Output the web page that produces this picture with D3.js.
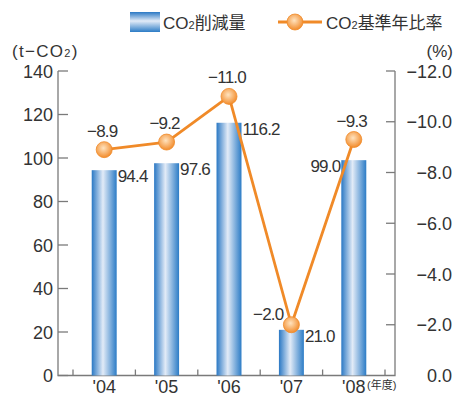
<!DOCTYPE html>
<html>
<head>
<meta charset="utf-8">
<script src="https://cdn.jsdelivr.net/npm/d3@7"></script>
<style>
  body { margin: 0; background: #fff; }
  svg { display: block; font-family: "Liberation Sans", Arial, "Noto Sans CJK JP", sans-serif; }
</style>
</head>
<body>
<div id="chart"></div>
<script>
const years = ["'04", "'05", "'06", "'07", "'08"];
const reduction = [94.4, 97.6, 116.2, 21.0, 99.0];      // t-CO2
const ratio = [-8.9, -9.2, -11.0, -2.0, -9.3];          // %
const leftTicks = [0, 20, 40, 60, 80, 100, 120, 140];
const rightTicks = [0, -2, -4, -6, -8, -10, -12];

const W = 470, H = 398;
const textColor = '#333';
const axisColor = '#7a7a7a';

const svg = d3.select('#chart').append('svg')
    .attr('width', W).attr('height', H);

const defs = svg.append('defs');

// bar gradient: dark blue edges, pale centre
const bg = defs.append('linearGradient').attr('id', 'barGrad')
    .attr('x1', 0).attr('x2', 1).attr('y1', 0).attr('y2', 0);
bg.append('stop').attr('offset', '0%').attr('stop-color', '#2a78c4');
bg.append('stop').attr('offset', '45%').attr('stop-color', '#e2ebf7');
bg.append('stop').attr('offset', '100%').attr('stop-color', '#2c7cc6');

// legend swatch has horizontal stripes
const lg = defs.append('linearGradient').attr('id', 'legGrad')
    .attr('x1', 0).attr('x2', 0).attr('y1', 0).attr('y2', 1);
lg.append('stop').attr('offset', '0%').attr('stop-color', '#2a78c4');
lg.append('stop').attr('offset', '45%').attr('stop-color', '#e2ebf7');
lg.append('stop').attr('offset', '100%').attr('stop-color', '#2c7cc6');

const mg = defs.append('radialGradient').attr('id', 'dotGrad')
    .attr('cx', '45%').attr('cy', '40%').attr('r', '60%');
mg.append('stop').attr('offset', '0%').attr('stop-color', '#ffe3bf');
mg.append('stop').attr('offset', '100%').attr('stop-color', '#f28c2c');

const x = d3.scaleBand().domain(years).range([73, 385])
    .paddingInner(0.6).paddingOuter(0.3);
const yL = d3.scaleLinear().domain([0, 140]).range([375.5, 71]);
const yR = d3.scaleLinear().domain([0, -12]).range([375.5, 71]);

const axisL = 58, axisR = 395;

// axis lines
const ax = svg.append('g').attr('stroke', axisColor).attr('stroke-width', 1.3).attr('fill', 'none');
ax.append('path').attr('d', `M${axisL},${yL(140)}V${yL(0)}H${axisR}V${yR(-12)}`);
ax.selectAll('.lt').data(leftTicks).join('line')
    .attr('x1', axisL).attr('x2', axisL + 10)
    .attr('y1', d => yL(d)).attr('y2', d => yL(d));
ax.selectAll('.rt').data(rightTicks.filter(d => d !== 0)).join('line')
    .attr('x1', axisR - 9).attr('x2', axisR)
    .attr('y1', d => yR(d)).attr('y2', d => yR(d));
const step = x.step();
const bounds = years.map(d => x(d) + x.bandwidth() / 2 - step / 2)
    .concat([x(years[4]) + x.bandwidth() / 2 + step / 2]);
ax.selectAll('.bt').data(bounds).join('line')
    .attr('x1', d => d).attr('x2', d => d)
    .attr('y1', yL(0)).attr('y2', yL(0) - 6);

// tick labels
svg.append('g').attr('fill', textColor).attr('font-size', 18)
    .attr('text-anchor', 'end')
    .selectAll('text').data(leftTicks).join('text')
    .attr('x', 53).attr('y', d => yL(d) + 6.5)
    .text(d => d);
svg.append('g').attr('fill', textColor).attr('font-size', 18)
    .attr('text-anchor', 'end')
    .selectAll('text').data(rightTicks).join('text')
    .attr('x', 452).attr('y', d => yR(d) + 6.5)
    .text(d => (d === 0 ? '0.0' : '\u2212' + Math.abs(d).toFixed(1)));
svg.append('g').attr('fill', textColor).attr('font-size', 18)
    .attr('text-anchor', 'middle')
    .selectAll('text').data(years).join('text')
    .attr('x', d => x(d) + x.bandwidth() / 2).attr('y', 393)
    .text(d => d);
svg.append('text').attr('x', 367).attr('y', 389).attr('font-size', 11)
    .attr('fill', textColor).text('(年度)');

// unit labels
const unitL = svg.append('text').attr('x', 12).attr('y', 57)
    .attr('font-size', 17).attr('letter-spacing', 1.3).attr('fill', textColor);
unitL.append('tspan').text('(t\u2212CO');
unitL.append('tspan').attr('font-size', 11).text('2');
unitL.append('tspan').text(')');
svg.append('text').attr('x', 453).attr('y', 57).attr('text-anchor', 'end')
    .attr('font-size', 17).attr('fill', textColor).text('(%)');

// bars
svg.append('g').selectAll('rect').data(reduction).join('rect')
    .attr('x', (d, i) => x(years[i]))
    .attr('y', d => yL(d))
    .attr('width', x.bandwidth())
    .attr('height', d => yL(0) - yL(d))
    .attr('fill', 'url(#barGrad)');

// bar value labels
svg.append('g').attr('fill', textColor).attr('font-size', 17)
    .attr('letter-spacing', -0.8)
    .selectAll('text').data(reduction).join('text')
    .attr('text-anchor', (d, i) => (i === 4 ? 'end' : 'start'))
    .attr('x', (d, i) => (i === 4 ? x(years[i]) - 1 : x(years[i]) + x.bandwidth() + 1))
    .attr('y', d => yL(d) + 12)
    .text(d => d.toFixed(1));

// ratio line
const line = d3.line()
    .x((d, i) => x(years[i]) + x.bandwidth() / 2)
    .y(d => yR(d));
svg.append('path').datum(ratio)
    .attr('d', line)
    .attr('fill', 'none')
    .attr('stroke', '#f08a28')
    .attr('stroke-width', 2.8)
    .attr('stroke-linejoin', 'round');
svg.append('g').selectAll('circle').data(ratio).join('circle')
    .attr('cx', (d, i) => x(years[i]) + x.bandwidth() / 2)
    .attr('cy', d => yR(d))
    .attr('r', 8)
    .attr('fill', 'url(#dotGrad)')
    .attr('stroke', '#f08a28').attr('stroke-width', 0.8);

// ratio labels
svg.append('g').attr('fill', textColor).attr('font-size', 17)
    .attr('letter-spacing', -0.8)
    .selectAll('text').data(ratio).join('text')
    .attr('text-anchor', (d, i) => (i === 3 ? 'end' : 'middle'))
    .attr('x', (d, i) => x(years[i]) + x.bandwidth() / 2 + (i === 3 ? -8 : -2))
    .attr('y', (d, i) => yR(d) - (i === 3 ? 5 : 13))
    .text(d => '\u2212' + Math.abs(d).toFixed(1));

// legend
const leg = svg.append('g');
leg.append('rect').attr('x', 130).attr('y', 12).attr('width', 30).attr('height', 20)
    .attr('fill', 'url(#legGrad)');
const t1 = leg.append('text').attr('x', 163).attr('y', 29)
    .attr('font-size', 17).attr('fill', textColor);
t1.append('tspan').text('CO');
t1.append('tspan').attr('font-size', 11).text('2');
t1.append('tspan').text('削減量');
leg.append('line').attr('x1', 278).attr('x2', 322).attr('y1', 22).attr('y2', 22)
    .attr('stroke', '#f08a28').attr('stroke-width', 2.8);
leg.append('circle').attr('cx', 295).attr('cy', 22).attr('r', 8)
    .attr('fill', 'url(#dotGrad)').attr('stroke', '#f08a28').attr('stroke-width', 0.8);
const t2 = leg.append('text').attr('x', 326).attr('y', 29)
    .attr('font-size', 17).attr('fill', textColor);
t2.append('tspan').text('CO');
t2.append('tspan').attr('font-size', 11).text('2');
t2.append('tspan').text('基準年比率');
</script>
</body>
</html>
